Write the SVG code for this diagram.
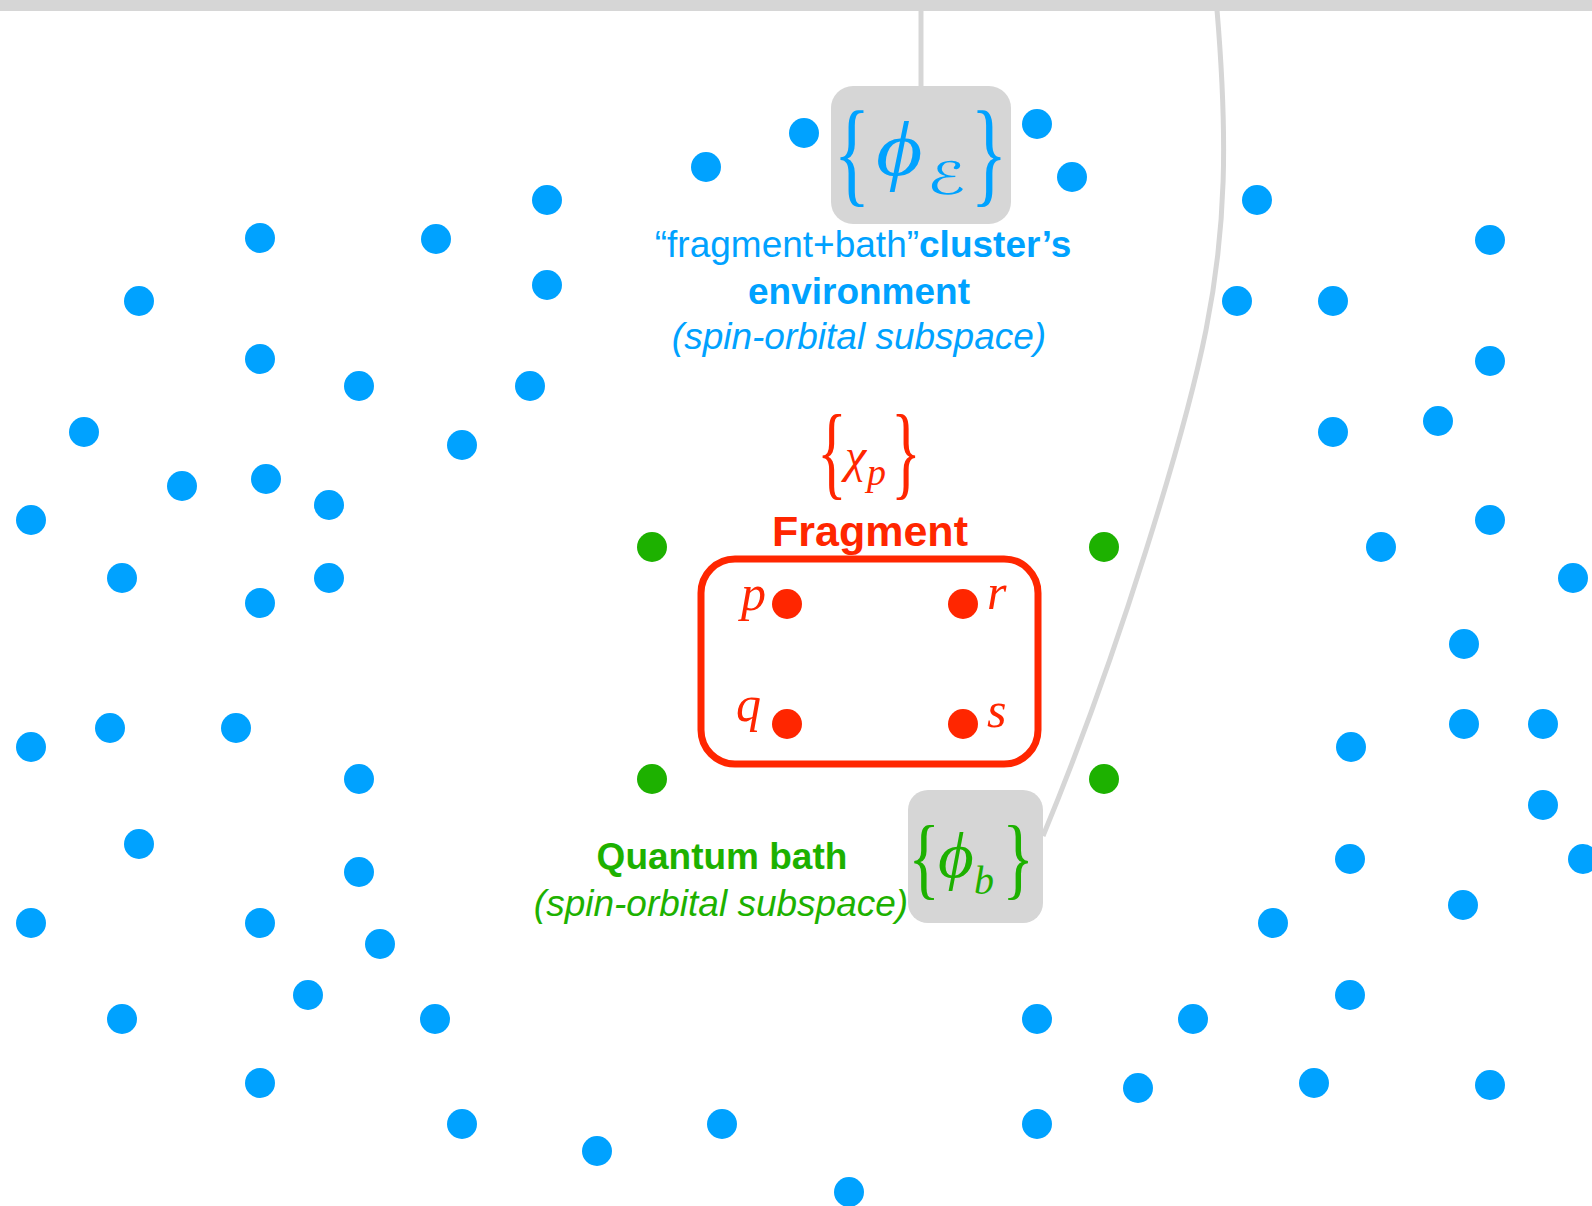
<svg xmlns="http://www.w3.org/2000/svg" width="1592" height="1206" viewBox="0 0 1592 1206">
  <style>
    .env { fill: #00a2ff; }
    .bath { fill: #1db100; }
    .frag { fill: #ff2600; }
    .callout { fill: #d6d6d6; }
    .conn { fill: none; stroke: #d6d6d6; stroke-width: 5; }
    .sans { font-family: "Liberation Sans", Arial, sans-serif; }
    .bold { font-weight: bold; }
    .ital { font-style: italic; }
    .math { font-family: "Liberation Serif", "DejaVu Serif", serif; font-style: italic; }
    .brace { font-family: "Liberation Serif", "DejaVu Serif", serif; text-anchor: middle; }
    .script { font-family: "DejaVu Sans", "DejaVu Serif", sans-serif; font-style: normal; }
  </style>
  <defs>
    <circle id="dot" r="15"/>
  </defs>

  <rect width="1592" height="1206" fill="#ffffff"/>

  <!-- connectors: top rail, drop line to the environment callout, sweep to the bath callout -->
  <g id="connectors">
    <rect x="0" y="0" width="1592" height="11" class="callout"/>
    <line x1="921" y1="10" x2="921" y2="88" class="conn"/>
    <path d="M1217,10 C1228,140 1226,230 1206,330 S1120,650 1043,836" class="conn"/>
  </g>

  <!-- environment spin-orbitals -->
  <g id="environment-orbitals" class="env">
    <use href="#dot" x="804" y="133"/><use href="#dot" x="706" y="167"/>
    <use href="#dot" x="1037" y="124"/><use href="#dot" x="1072" y="177"/>
    <use href="#dot" x="547" y="200"/><use href="#dot" x="260" y="238"/>
    <use href="#dot" x="436" y="239"/><use href="#dot" x="139" y="301"/>
    <use href="#dot" x="547" y="285"/><use href="#dot" x="260" y="359"/>
    <use href="#dot" x="359" y="386"/><use href="#dot" x="530" y="386"/>
    <use href="#dot" x="84" y="432"/><use href="#dot" x="462" y="445"/>
    <use href="#dot" x="182" y="486"/><use href="#dot" x="266" y="479"/>
    <use href="#dot" x="329" y="505"/><use href="#dot" x="31" y="520"/>
    <use href="#dot" x="122" y="578"/><use href="#dot" x="329" y="578"/>
    <use href="#dot" x="260" y="603"/>
    <use href="#dot" x="31" y="747"/><use href="#dot" x="110" y="728"/>
    <use href="#dot" x="236" y="728"/><use href="#dot" x="359" y="779"/>
    <use href="#dot" x="139" y="844"/><use href="#dot" x="359" y="872"/>
    <use href="#dot" x="31" y="923"/><use href="#dot" x="260" y="923"/>
    <use href="#dot" x="380" y="944"/><use href="#dot" x="308" y="995"/>
    <use href="#dot" x="122" y="1019"/><use href="#dot" x="435" y="1019"/>
    <use href="#dot" x="260" y="1083"/><use href="#dot" x="462" y="1124"/>
    <use href="#dot" x="597" y="1151"/><use href="#dot" x="722" y="1124"/>
    <use href="#dot" x="849" y="1192"/><use href="#dot" x="1037" y="1019"/>
    <use href="#dot" x="1037" y="1124"/><use href="#dot" x="1138" y="1088"/>
    <use href="#dot" x="1193" y="1019"/><use href="#dot" x="1314" y="1083"/>
    <use href="#dot" x="1490" y="1085"/><use href="#dot" x="1350" y="995"/>
    <use href="#dot" x="1273" y="923"/><use href="#dot" x="1463" y="905"/>
    <use href="#dot" x="1350" y="859"/><use href="#dot" x="1583" y="859"/>
    <use href="#dot" x="1543" y="805"/>
    <use href="#dot" x="1543" y="724"/><use href="#dot" x="1464" y="724"/>
    <use href="#dot" x="1351" y="747"/><use href="#dot" x="1464" y="644"/>
    <use href="#dot" x="1573" y="578"/><use href="#dot" x="1381" y="547"/>
    <use href="#dot" x="1490" y="520"/><use href="#dot" x="1333" y="432"/>
    <use href="#dot" x="1438" y="421"/><use href="#dot" x="1490" y="361"/>
    <use href="#dot" x="1237" y="301"/><use href="#dot" x="1333" y="301"/>
    <use href="#dot" x="1490" y="240"/><use href="#dot" x="1257" y="200"/>
  </g>

  <!-- environment callout {phi_E} -->
  <g id="environment-basis">
    <rect x="831" y="86" width="180" height="138" rx="22" class="callout"/>
    <g class="env">
      <text class="brace" font-size="77" transform="translate(852,191) scale(1,1.5)">{</text>
      <text class="math" font-size="78" transform="translate(876,175) scale(1.15,1)">ϕ</text>
      <text class="script" font-size="44" transform="translate(927,194) scale(1.45,1.02)">ℰ</text>
      <text class="brace" font-size="77" transform="translate(989,191) scale(1,1.5)">}</text>
    </g>
  </g>

  <!-- environment label -->
  <g id="environment-label" class="env sans" font-size="37">
    <text x="863" y="257" text-anchor="middle">“fragment+bath”<tspan class="bold">cluster’s</tspan></text>
    <text x="859" y="304" text-anchor="middle" class="bold">environment</text>
    <text x="859" y="349" text-anchor="middle" class="ital">(spin-orbital subspace)</text>
  </g>

  <!-- fragment basis {chi_p} -->
  <g id="fragment-basis" class="frag">
    <text class="brace" font-size="62" transform="translate(832,486) scale(1,1.66)">{</text>
    <text class="math" x="845" y="472" font-size="48">χ</text>
    <text class="math" x="867" y="485" font-size="38">p</text>
    <text class="brace" font-size="62" transform="translate(906,486) scale(1,1.66)">}</text>
  </g>

  <!-- fragment -->
  <g id="fragment">
    <text x="870" y="546" text-anchor="middle" class="frag sans bold" font-size="43">Fragment</text>
    <rect x="701" y="559" width="337" height="205" rx="34" fill="none" stroke="#ff2600" stroke-width="7"/>
    <g class="frag">
      <use href="#dot" x="787" y="604"/><use href="#dot" x="963" y="604"/>
      <use href="#dot" x="787" y="724"/><use href="#dot" x="963" y="724"/>
    </g>
    <g class="frag math" font-size="50">
      <text x="741" y="610">p</text>
      <text x="987" y="609">r</text>
      <text x="736" y="721">q</text>
      <text x="987" y="727">s</text>
    </g>
  </g>

  <!-- quantum bath orbitals -->
  <g id="bath-orbitals" class="bath">
    <use href="#dot" x="652" y="547"/><use href="#dot" x="1104" y="547"/>
    <use href="#dot" x="652" y="779"/><use href="#dot" x="1104" y="779"/>
  </g>

  <!-- bath callout {phi_b} -->
  <g id="bath-basis">
    <rect x="908" y="790" width="135" height="133" rx="20" class="callout"/>
    <g class="bath">
      <text class="brace" font-size="66" transform="translate(924,887.5) scale(1,1.37)">{</text>
      <text class="math" font-size="64" transform="translate(938,877) scale(1.08,1)">ϕ</text>
      <text class="math" x="974" y="894" font-size="40">b</text>
      <text class="brace" font-size="66" transform="translate(1018,887.5) scale(1,1.37)">}</text>
    </g>
  </g>

  <!-- bath label -->
  <g id="bath-label" class="bath sans" font-size="37">
    <text x="722" y="869" text-anchor="middle" class="bold">Quantum bath</text>
    <text x="721" y="916" text-anchor="middle" class="ital">(spin-orbital subspace)</text>
  </g>
</svg>
